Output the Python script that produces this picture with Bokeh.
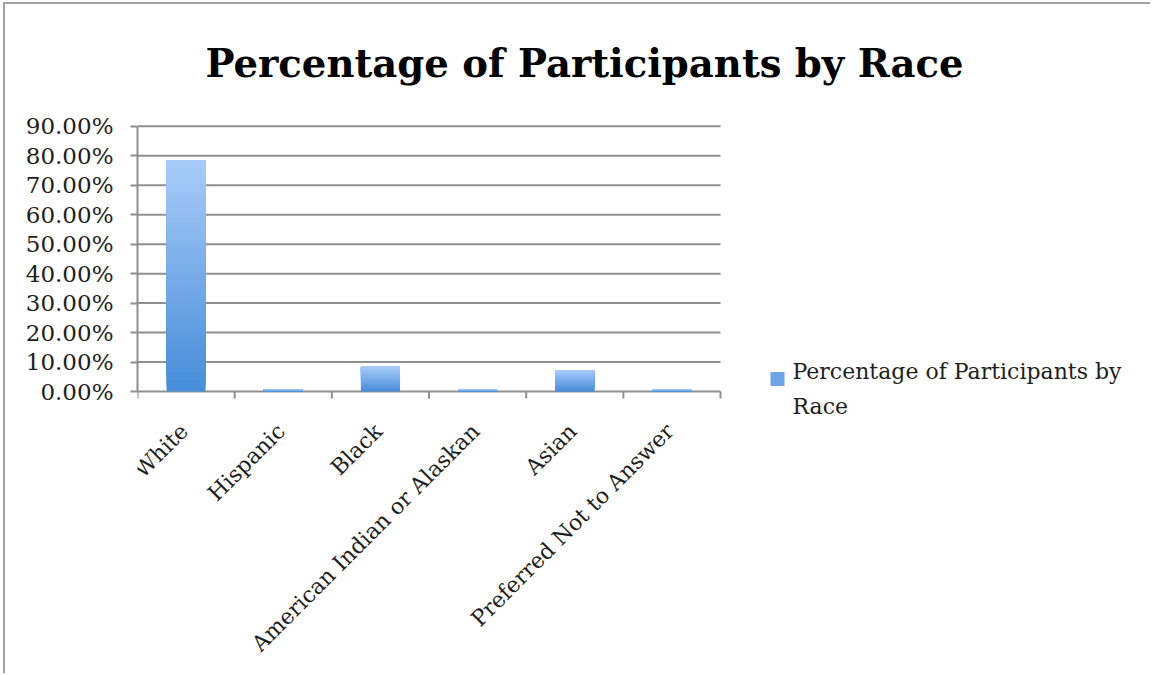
import math
from bokeh.plotting import figure
from bokeh.models import Range1d, LinearAxis, FixedTicker, PrintfTickFormatter, Title
from bokeh.core.properties import value
from bokeh.embed import file_html
from bokeh.resources import INLINE

# Share of participants in each race category (percent)
categories = ["White", "Hispanic", "Black", "American Indian or Alaskan", "Asian",
              "Preferred Not to Answer"]
percentages = [78.5, 0.8, 8.5, 0.8, 7.3, 0.8]
y_ticks = [0, 10, 20, 30, 40, 50, 60, 70, 80, 90]
series_name = "Percentage of Participants by Race"
legend_label = "Percentage of Participants by\nRace"

FONT = "DejaVu Serif"
GRID = "#8f8f8f"
TEXT = "#1e1e1e"
TOP_RGB = (0xA9, 0xCC, 0xF8)
BOTTOM_RGB = (0x47, 0x8C, 0xD9)
SWATCH = "#6fa5e6"

# Canvas geometry (pixels)
W, H = 1147, 671
LEFT, TOP = 132, 120            # space for the value axis and the title
CAT_PX = 97.17                  # width of one category slot
PCT_PX = 2.946                  # pixels per percentage point
ZERO_FROM_TOP = 267             # distance from frame top to the 0% line

n_cat = len(categories)
centers = [i + 0.5 for i in range(n_cat)]
edges = list(range(n_cat + 1))
frame_w, frame_h = W - LEFT, H - TOP
x_end = frame_w / CAT_PX
y_top = ZERO_FROM_TOP / PCT_PX
y_bottom = -(frame_h - ZERO_FROM_TOP) / PCT_PX
tick_len = 7 / PCT_PX


def px(dx, dy):
    """Frame offsets in pixels (right of the left edge, above the 0% line) to data."""
    return dx / CAT_PX, dy / PCT_PX


p = figure(width=W, height=H, x_range=Range1d(0, x_end), y_range=Range1d(y_bottom, y_top),
           output_backend="svg", toolbar_location=None, x_axis_location=None,
           y_axis_location=None, min_border_left=LEFT, min_border_right=0,
           min_border_top=TOP, min_border_bottom=0)
p.styles = {"border-top": "2px solid #a3a3a3", "border-left": "2px solid #a3a3a3",
            "margin-left": "3px", "margin-top": "2px"}
p.outline_line_color = None
p.background_fill_color = "white"
p.border_fill_color = "white"
p.grid.visible = False

# Gridlines across the category slots (the 0% line doubles as the baseline)
p.segment(x0=[0] * len(y_ticks), x1=[n_cat] * len(y_ticks), y0=y_ticks, y1=y_ticks,
          line_color=GRID, line_width=2)
# Ticks between categories
p.segment(x0=edges, x1=edges, y0=[0] * len(edges), y1=[-tick_len] * len(edges),
          line_color=GRID, line_width=2)

# Vertical gradient per bar: stacked slices, each overlapping the ones above it
N = 60
xs, bottoms, tops, colors = [], [], [], []
for k in range(N):
    t = (k + 0.5) / N
    rgb = tuple(round(b + (a - b) * t) for a, b in zip(TOP_RGB, BOTTOM_RGB))
    for cx, val in zip(centers, percentages):
        xs.append(cx)
        bottoms.append(val * k / N)
        tops.append(val)
        colors.append("#%02x%02x%02x" % rgb)
p.vbar(x=xs, bottom=bottoms, top=tops, width=0.40, fill_color=colors, line_color=None)

# Category labels, rotated
p.text(x=centers, y=[0] * n_cat, text=categories, angle=math.pi / 4,
       text_align="right", text_baseline="middle", x_offset=-2, y_offset=36,
       text_font=value(FONT), text_font_size="22px", text_color=TEXT)

# Value axis
yax = LinearAxis(ticker=FixedTicker(ticks=y_ticks),
                 formatter=PrintfTickFormatter(format="%.2f%%"), bounds=(0, 90))
yax.axis_line_color = GRID
yax.axis_line_width = 2
yax.major_tick_line_color = GRID
yax.major_tick_line_width = 2
yax.major_tick_out = 7
yax.major_tick_in = 0
yax.minor_tick_line_color = None
yax.major_label_text_font = FONT
yax.major_label_text_font_size = "23px"
yax.major_label_text_color = TEXT
yax.major_label_standoff = 17
p.add_layout(yax, "left")

# Legend key to the right of the bars
sx, sy = px(640, 12.5)
p.scatter(x=[sx], y=[sy], marker="square", size=14, fill_color=SWATCH, line_color=None)
lx, ly = px(655, 3)
p.text(x=[lx], y=[ly], text=[legend_label], text_align="left", text_baseline="middle",
       text_line_height=1.4, text_font=value(FONT), text_font_size="22px",
       text_color=TEXT)

# Title
p.add_layout(Title(text=" ", text_font_size="20px"), "above")
p.add_layout(Title(text=series_name, text_font=FONT, text_font_style="bold",
                   text_font_size="38.6px", text_color="black", align="left",
                   offset=68), "above")

open("out.html", "w").write(file_html(p, INLINE))
